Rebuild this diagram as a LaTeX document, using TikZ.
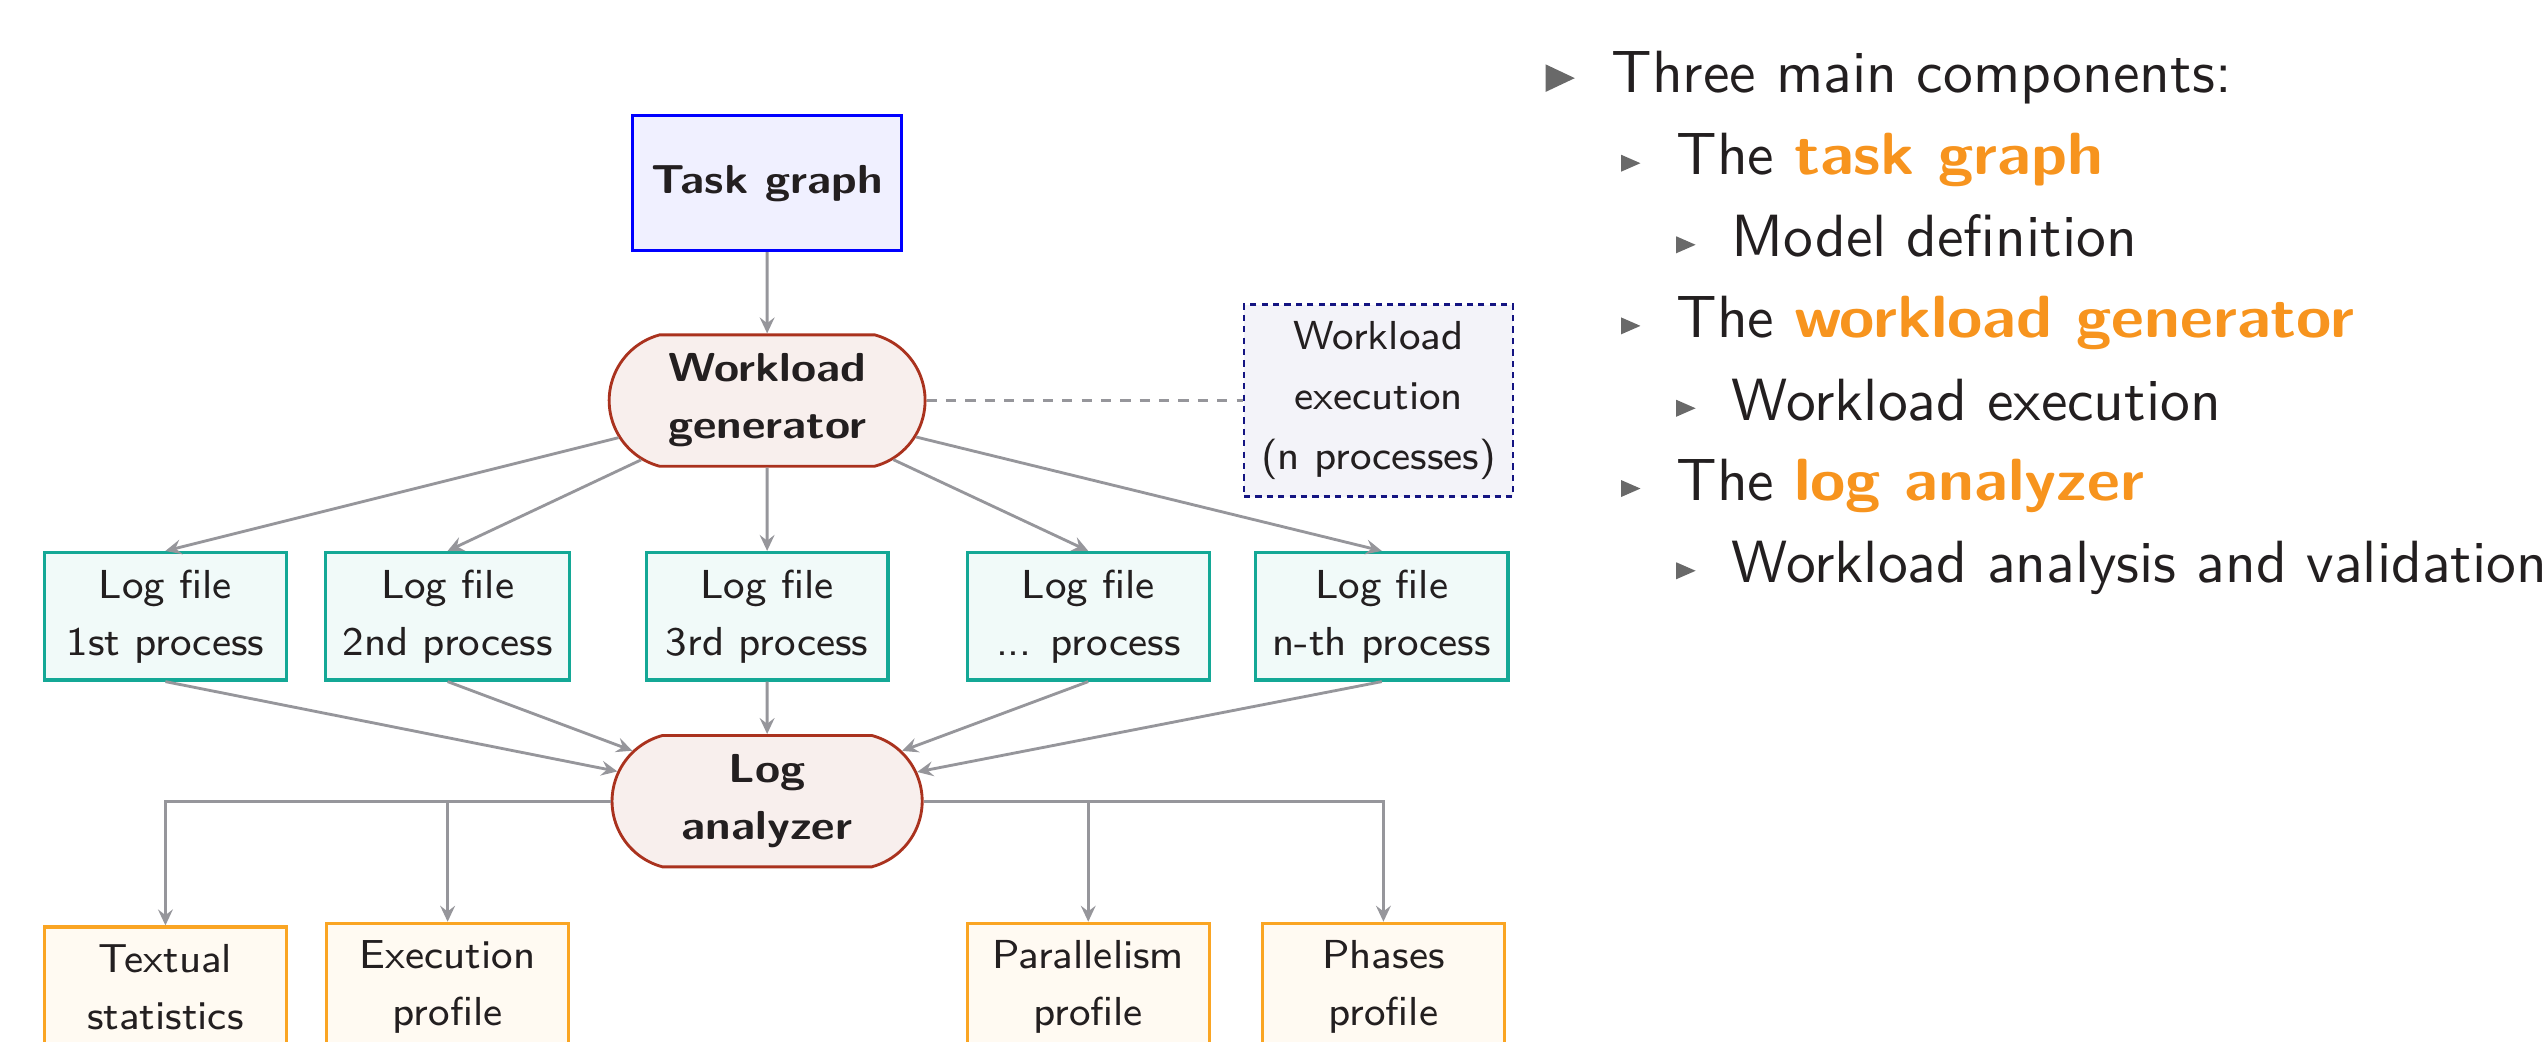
\documentclass[tikz,border=0pt]{standalone}
\usepackage{fontspec}
\usetikzlibrary{shapes.misc,arrows.meta}
\renewcommand{\familydefault}{\sfdefault}
% wide bold sans faces
\newfontface\bxface{lmsans10-bold.otf}[FakeStretch=1.078]
\newfontface\bxbox{lmsans10-bold.otf}[FakeStretch=1.13]

\definecolor{txt}{RGB}{35,31,32}
\definecolor{hl}{RGB}{247,148,30}
\definecolor{bul}{RGB}{105,105,105}
\definecolor{edge}{RGB}{150,150,155}
\definecolor{taskc}{RGB}{0,0,255}
\definecolor{genc}{RGB}{170,50,30}
\definecolor{logc}{RGB}{20,168,150}
\definecolor{outc}{RGB}{250,165,35}
\definecolor{execc}{RGB}{20,20,130}

\newcommand{\hlt}[1]{\textcolor{hl}{\bxface #1}}

\tikzset{
 box/.style={draw, line width=0.55pt, align=center, text=txt,
  inner xsep=3pt, inner ysep=3pt, minimum width=1.49cm,
  font=\fontsize{7.1}{10}\selectfont},
 taskbox/.style={box, draw=taskc, fill=taskc!6, minimum width=1.66cm,
  minimum height=0.83cm, font=\fontsize{7.1}{10}\selectfont\bxbox},
 procbox/.style={box, rounded rectangle, rounded rectangle arc length=150,
  draw=genc, fill=genc!8, line width=0.5pt, inner xsep=7.1pt,
  minimum height=0.81cm, font=\fontsize{7.1}{10}\selectfont\bxbox},
 logbox/.style={box, draw=logc, fill=logc!6},
 resbox/.style={box, draw=outc, fill=outc!6},
 execbox/.style={box, draw=execc, fill=execc!5, line width=0.4pt,
  dash pattern=on 1.1pt off 0.9pt, minimum width=1.66cm, minimum height=1.18cm,
  font=\fontsize{7.1}{10.5}\selectfont},
 flow/.style={draw=edge, line width=0.5pt,
  -{Stealth[length=2.8pt,width=2.6pt,inset=1pt]}},
 item/.style={anchor=base west, inner sep=0pt, text=txt,
  font=\fontsize{10.45}{12}\selectfont},
}

\begin{document}
\begin{tikzpicture}
 \useasboundingbox (0,0) rectangle (15.68,6.42);
 \clip (0,0) rectangle (15.68,6.42);
 % main column
 \node[taskbox] (task) at (4.73,5.29) {Task graph};
 \node[procbox] (gen) at (4.73,3.95) {Workload\\generator};
 \node[execbox] (exec) at (8.50,3.95) {Workload\\execution\\(n processes)};
 %
 \node[logbox] (log1) at (1.02,2.62) {Log file\\1st process};
 \node[logbox] (log2) at (2.76,2.62) {Log file\\2nd process};
 \node[logbox] (log3) at (4.73,2.62) {Log file\\3rd process};
 \node[logbox] (log4) at (6.71,2.62) {Log file\\... process};
 \node[logbox] (log5) at (8.52,2.62) {Log file\\n-th process};
 %
 \node[procbox, inner xsep=9pt] (ana) at (4.73,1.48) {Log\\analyzer};
 %
 \node[resbox] (res1) at (1.02,0.335) {Textual\\statistics};
 \node[resbox] (res2) at (2.76,0.335) {Execution\\profile};
 \node[resbox] (res3) at (6.71,0.335) {Parallelism\\profile};
 \node[resbox] (res4) at (8.53,0.335) {Phases\\profile};
 %
 \draw[flow] (task) -- (gen);
 \draw[draw=edge, line width=0.5pt, dash pattern=on 1.8pt off 1.6pt] (gen.east) -- (exec.west);
 \foreach \i in {1,...,5} {
  \draw[flow] (gen) -- (log\i.north);
  \draw[flow] (log\i.south) -- (ana);
 }
 \draw[flow] (ana.west) -| (res1.north);
 \draw[flow] (ana.west) -| (res2.north);
 \draw[flow] (ana.east) -| (res3.north);
 \draw[flow] (ana.east) -| (res4.north);
 %
 % items on the right
 \node[item] (main) at (9.93,5.848) {Three main components:};
 \node[item] (it1) at (10.33,5.341) {The \hlt{task graph}};
 \node[item] (sub1) at (10.67,4.838) {Model definition};
 \node[item] (it2) at (10.33,4.338) {The \hlt{workload generator}};
 \node[item] (sub2) at (10.67,3.830) {Workload execution};
 \node[item] (it3) at (10.33,3.335) {The \hlt{log analyzer}};
 \node[item] (sub3) at (10.67,2.828) {Workload analysis and validation};
 %
 \fill[bul] ([xshift=-4mm,yshift=0.05mm]main.base west) -- ++(0,0.17) -- ++(0.18,-0.085) -- cycle;
 \foreach \n in {it1,it2,it3,sub1,sub2,sub3}
  \fill[bul] ([xshift=-3.35mm,yshift=0.2mm]\n.base west) -- ++(0,0.105) -- ++(0.12,-0.0525) -- cycle;
\end{tikzpicture}
\end{document}
